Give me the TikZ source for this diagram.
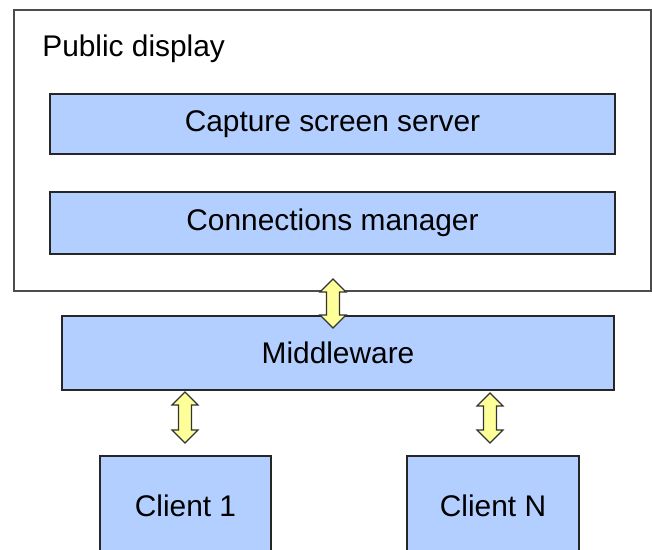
\documentclass[tikz,border=0pt]{standalone}
\usepackage{fontspec}
\setmainfont{Liberation Sans}

\definecolor{boxblue}{RGB}{179,207,255}
\definecolor{arrowyellow}{RGB}{255,255,153}

\tikzset{
 layer/.style={draw=black!85, line width=0.8pt, fill=boxblue, inner sep=0pt,
  font=\fontsize{17}{20}\selectfont},
 link/.style={draw=black!80, line width=0.7pt, fill=arrowyellow, line join=miter}
}

% up-down block arrow: x, top y, bottom y
\newcommand{\updown}[3]{%
 \draw[link] (#1,#2) -- ++(13,13) -- ++(-6.5,0) |- (#1+13,#3-13) -- (#1,#3)
  -- ++(-13,-13) -- ++(6.5,0) |- (#1-13,#2+13) -- cycle;}

\begin{document}
\begin{tikzpicture}[x=0.02cm, y=-0.02cm]
%\draw[help lines] (0,0) grid (652,550);
\useasboundingbox (0,0) rectangle (652,550);
\clip (0,0) rectangle (652,550);

 \node[draw=black!70, line width=0.8pt, minimum width=12.74cm, minimum height=5.62cm] (display) at (332.5,150.5) {};
 \node[anchor=base west, inner sep=0pt, font=\fontsize{17}{20}\selectfont] (title) at (42,57) {Public display};

 \node[layer, minimum width=11.3cm, minimum height=1.2cm] (capture) at (332.5,124) {Capture screen server};
 \node[layer, minimum width=11.3cm, minimum height=1.24cm] (conn) at (332.5,223) {Connections manager};

 \node[layer, minimum width=11.04cm, minimum height=1.48cm] (mw) at (338,353) {Middleware};

 \node[layer, minimum width=3.42cm, minimum height=2cm] (c1) at (185.5,506) {Client 1};
 \node[layer, minimum width=3.44cm, minimum height=2cm] (cn) at (493,506) {Client N};

 \updown{333}{279}{328}
 \updown{185}{392}{443}
 \updown{490}{393}{443}

\end{tikzpicture}
\end{document}
